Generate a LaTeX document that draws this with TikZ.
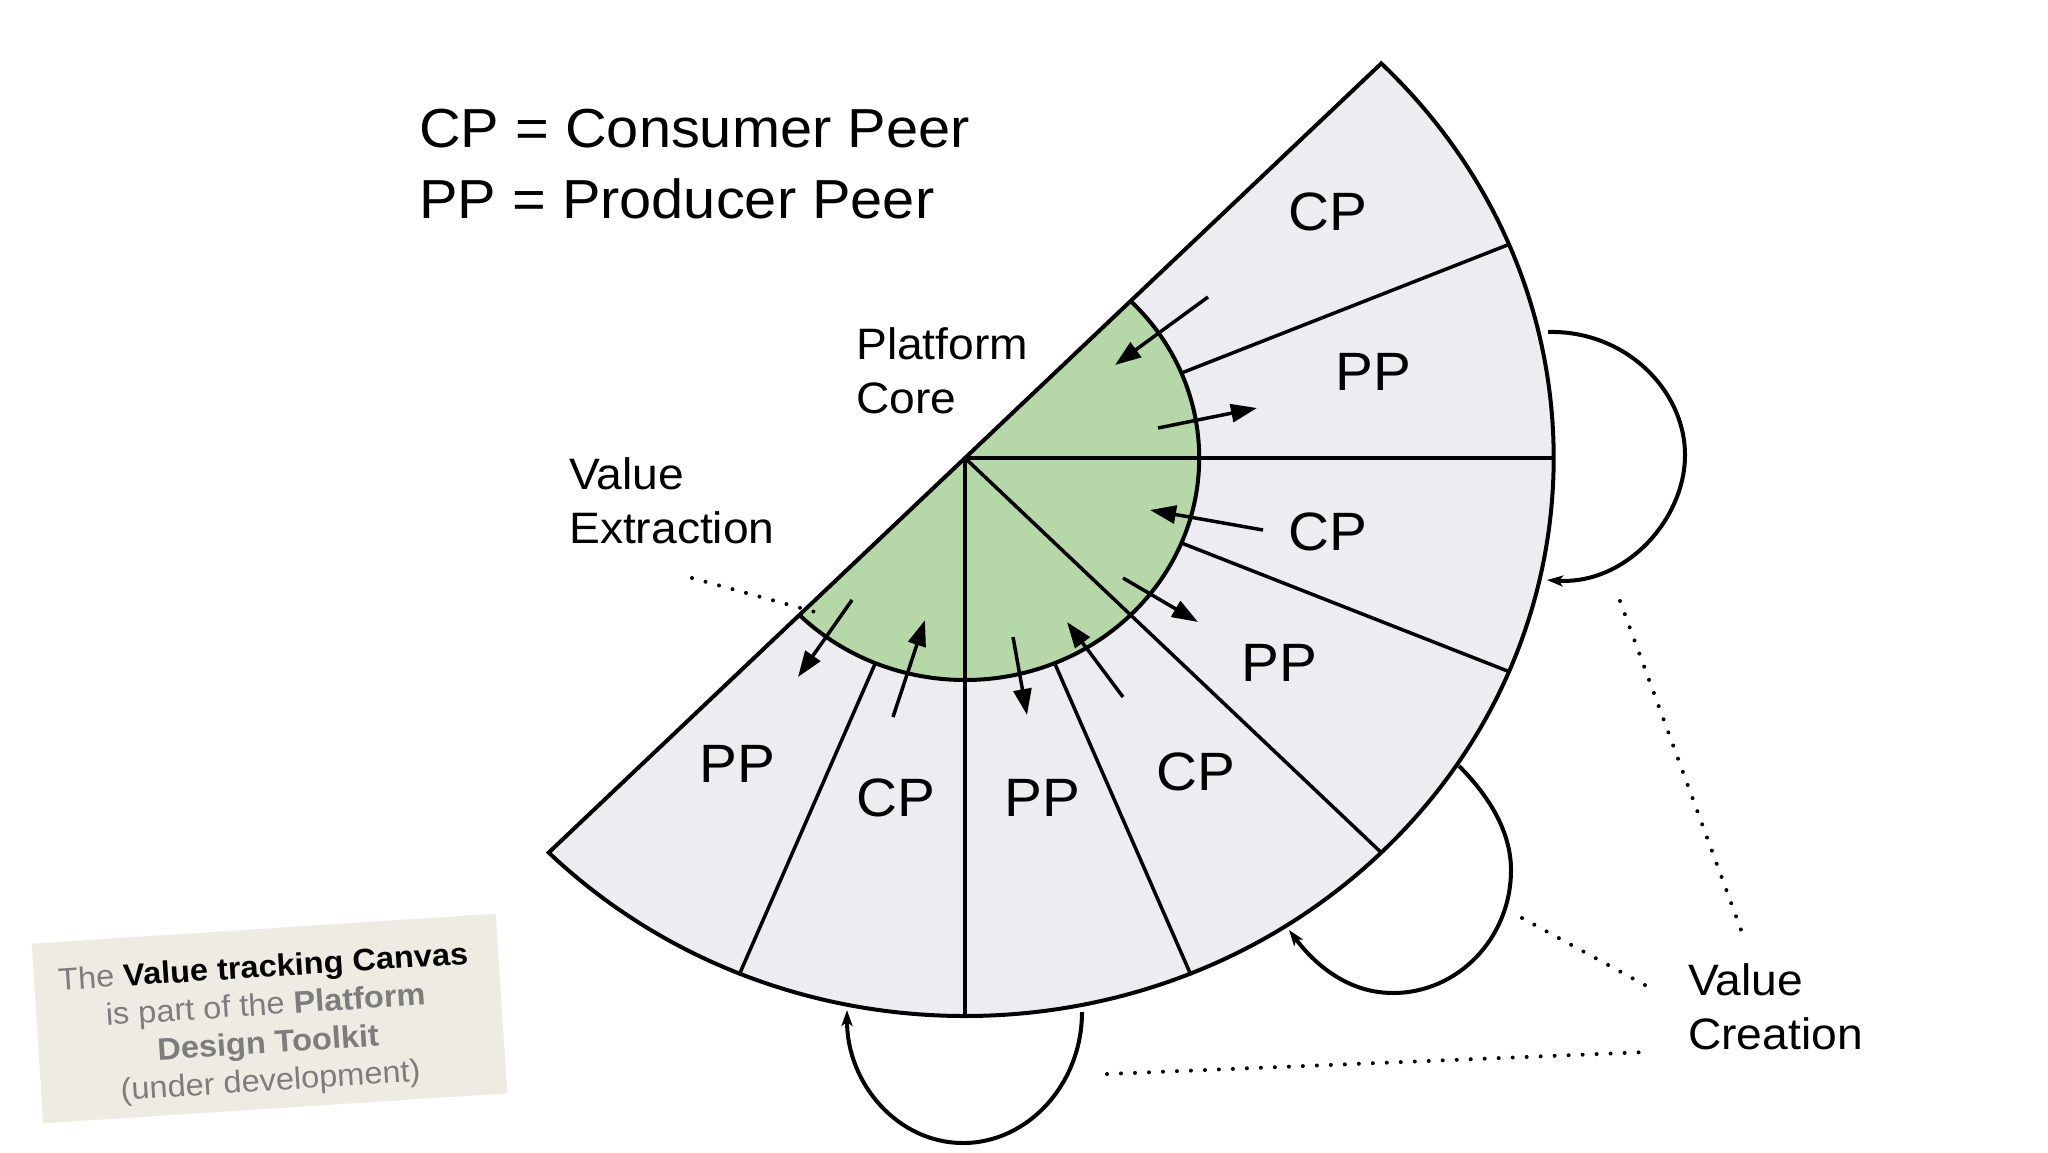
\documentclass[tikz,border=0pt]{standalone}
\usepackage{fontspec}
\setmainfont[FakeStretch=1.05]{Liberation Sans}
\usetikzlibrary{arrows.meta}
\definecolor{fangray}{RGB}{237,236,240}
\definecolor{coregreen}{HTML}{B6D7A8}
\definecolor{notebg}{RGB}{238,235,227}
\definecolor{notegray}{RGB}{125,125,125}
\begin{document}
\begin{tikzpicture}[x=1pt,y=-1pt,
  outline/.style={line width=4pt, line join=miter},
  divider/.style={line width=3.5pt},
  flow/.style={line width=3.5pt, -{Triangle[length=26pt,width=18pt]}},
  loopline/.style={line width=4pt, -{Stealth[length=16pt,width=11pt,inset=4pt]}},
  dotline/.style={line width=4pt, line cap=round, dash pattern=on 0pt off 14pt},
  sector/.style={font=\fontsize{54}{60}\selectfont, inner sep=0pt},
  lbl/.style={font=\fontsize{44}{54}\selectfont, inner sep=0pt, align=left, anchor=base west},
]
\fill[white] (0,0) rectangle (2048,1152);
\useasboundingbox (0,0) rectangle (2048,1152);

% ---- fan ----
\begin{scope}[shift={(965,458)}, xscale=1.055, yscale=-1]
  \coordinate (O) at (0,0);
  \fill[fangray] (O) -- (45:558) arc[start angle=45,end angle=-135,radius=558] -- cycle;
  \fill[coregreen] (O) -- (45:222) arc[start angle=45,end angle=-135,radius=222] -- cycle;
  \draw[divider] (O) -- (0:558);
  \draw[divider] (O) -- (-45:558);
  \draw[divider] (O) -- (-90:558);
  \foreach \a in {22.5,-22.5,-67.5,-112.5} \draw[divider] (\a:222) -- (\a:558);
  \draw[outline] (45:222) arc[start angle=45,end angle=-135,radius=222];
  \draw[outline] (45:558) arc[start angle=45,end angle=-135,radius=558] -- cycle;
\end{scope}

% ---- sector labels ----
\node[sector] (s1) at (1328,212) {CP};
\node[sector] (s2) at (1373,372) {PP};
\node[sector] (s3) at (1328,532) {CP};
\node[sector] (s4) at (1279,663) {PP};
\node[sector] (s5) at (1196,772) {CP};
\node[sector] (s6) at (1042,798) {PP};
\node[sector] (s7) at (896,798) {CP};
\node[sector] (s8) at (737,764) {PP};

% ---- value flow arrows ----
\coordinate (a1s) at (1208,297); \coordinate (a1e) at (1115,365);
\coordinate (a2s) at (1158,428); \coordinate (a2e) at (1257,408);
\coordinate (a3s) at (1263,530); \coordinate (a3e) at (1150,510);
\coordinate (a4s) at (1123,578); \coordinate (a4e) at (1198,622);
\coordinate (a5s) at (1123,697); \coordinate (a5e) at (1067,622);
\coordinate (a6s) at (1013,637); \coordinate (a6e) at (1027,715);
\coordinate (a7s) at (893,717);  \coordinate (a7e) at (925,620);
\coordinate (a8s) at (852,600);  \coordinate (a8e) at (798,677);
\foreach \i in {1,...,8} \draw[flow] (a\i s) -- (a\i e);

% ---- value creation loops ----
\coordinate (la0) at (1548,332); \coordinate (la1) at (1685,455); \coordinate (la2) at (1547,580);
\draw[loopline] (la0) .. controls (1625,330) and (1685,390) .. (la1)
  .. controls (1685,520) and (1625,585) .. (la2);
\coordinate (lb0) at (1459,766); \coordinate (lb1) at (1511,870);
\coordinate (lb2) at (1393,993); \coordinate (lb3) at (1289,930);
\draw[loopline] (lb0) .. controls (1487,794) and (1511,830) .. (lb1)
  .. controls (1511,938) and (1458,993) .. (lb2)
  .. controls (1343,993) and (1310,958) .. (lb3);
\coordinate (lc0) at (1082,1012); \coordinate (lc1) at (963,1143); \coordinate (lc2) at (847,1010);
\draw[loopline] (lc0) .. controls (1082,1084) and (1028,1143) .. (lc1)
  .. controls (898,1143) and (847,1084) .. (lc2);

% ---- text labels (anchor = baseline of last line) ----
\node[font=\fontsize{55}{71}\selectfont, anchor=base west, align=left, inner sep=0pt] (legend)
  at (419,218) {CP = Consumer Peer\\PP = Producer Peer};
\node[lbl] (pcore) at (856,413) {Platform\\Core};
\node[lbl] (vext) at (569,543) {Value\\Extraction};
\node[lbl] (vcre) at (1688,1049) {Value\\Creation};

% ---- dotted leaders ----
\coordinate (d1a) at (692,578);   \coordinate (d1b) at (826,615);
\coordinate (d2a) at (1620,601);  \coordinate (d2b) at (1744,938);
\coordinate (d3a) at (1522,918);  \coordinate (d3b) at (1654,990);
\coordinate (d4a) at (1107,1074); \coordinate (d4b) at (1648,1052);
\draw[dotline] (d1a) -- (d1b);
\draw[dotline] (d2a) -- (d2b);
\draw[dotline] (d3a) -- (d3b);
\draw[dotline] (d4a) -- (d4b);

% ---- note ----
\node[rotate=3.7, fill=notebg, minimum width=465pt, minimum height=180pt, inner sep=0pt] (note)
  at (269.5,1018.5) {};
\node[rotate=3.7, align=center, inner sep=0pt, text=notegray,
      font=\fontsize{31}{38}\selectfont] (notetext) at (267,1026)
  {The \textcolor{black}{\bfseries Value tracking Canvas}\\
   is part of the {\bfseries Platform}\\
   {\bfseries Design Toolkit}\\
   (under development)};
\end{tikzpicture}
\end{document}
